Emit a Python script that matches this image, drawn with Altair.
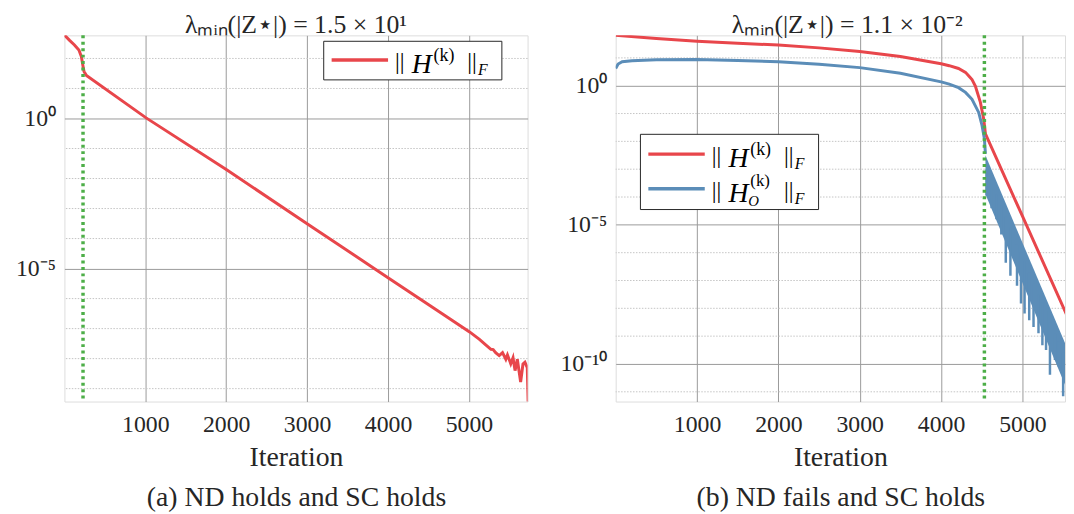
import altair as alt
import pandas as pd

SERIF = "Liberation Serif"
RED = "#E8464B"
BLUE = "#5B8DB8"
GREEN = "#4DAE48"
GRID = "#9A9A9A"
MINOR = "#C4C4C4"
BOX = "#4D4D4D"

# ---------------- panel (a) ----------------
a_title = "λₘᵢₙ(|Z⋆|) = 1.5 × 10¹"
a_caption = "(a) ND holds and SC holds"
a_iter = [0, 61, 124, 179, 209, 230, 242, 272, 1010, 2010, 3009, 4009, 4600, 5008, 5130,
          5211, 5272, 5300, 5330, 5374, 5415, 5456, 5476, 5517, 5545, 5570, 5598, 5639,
          5668, 5692, 5721, 5733]
a_log10 = [2.78, 2.61, 2.45, 2.28, 2.07, 1.74, 1.57, 1.43, 0.02, -1.72, -3.52, -5.32, -6.38,
           -7.11, -7.36, -7.55, -7.69, -7.70, -7.80, -7.90, -7.80, -8.02, -7.88, -8.17,
           -7.97, -8.40, -8.02, -8.78, -8.18, -8.12, -8.30, -9.6]
a_switch = [230]
a_xmax = 5725
a_ylog = [-9.43, 2.77]
a_minor = [-9, -8, -7, -6, -4, -3, -2, -1, 1, 2]

# ---------------- panel (b) ----------------
b_title = "λₘᵢₙ(|Z⋆|) = 1.1 × 10⁻²"
b_caption = "(b) ND fails and SC holds"
b_red_iter = [0, 500, 1000, 1500, 2000, 2500, 3000, 3500, 4000, 4100, 4214, 4300, 4338,
              4380, 4421, 4483, 4524, 4545, 5000, 5600]
b_red_log10 = [1.81, 1.70, 1.60, 1.53, 1.46, 1.36, 1.23, 1.05, 0.79, 0.72, 0.62, 0.48, 0.36,
               0.22, -0.01, -0.60, -1.20, -1.73, -4.69, -8.6]
b_blue_iter = [0, 30, 80, 200, 500, 1000, 1500, 2000, 2500, 3000, 3500, 4000, 4100, 4214,
               4300, 4380, 4462, 4503, 4532, 4545]
b_blue_log10 = [0.62, 0.78, 0.86, 0.90, 0.93, 0.94, 0.91, 0.86, 0.77, 0.65, 0.45, 0.14,
                0.06, -0.07, -0.24, -0.49, -0.96, -1.43, -1.91, -2.45]
band_iter = [4545, 5523]
band_upper = [-2.5, -9.25]
band_lower = [-3.9, -10.75]
spike_iter = [4560, 4620, 4680, 4740, 4795, 4852, 4933, 4982, 5026, 5083, 5136, 5197,
              5245, 5290, 5338, 5399, 5447, 5500]
spike_top = [-3.0, -3.5, -3.9, -4.3, -4.7, -5.1, -5.7, -6.0, -6.3, -6.7, -7.1, -7.5,
             -7.8, -8.1, -8.5, -8.9, -9.2, -9.6]
spike_bottom = [-3.95, -4.4, -4.8, -5.35, -6.36, -6.83, -7.19, -7.83, -8.19, -8.43, -8.67,
                -8.90, -9.33, -9.5, -10.39, -9.86, -10.1, -11.16]
b_switch = [4532]
b_xmax = 5523
b_ylog = [-11.35, 1.81]
b_minor = [-11, -9, -8, -7, -6, -4, -3, -2, -1, 1]

x_ticks = [1000, 2000, 3000, 4000, 5000]
y_tick_vals = [1.0, 1e-5, 1e-10]
y_tick_text = ["10⁰", "10⁻⁵", "10⁻¹⁰"]

label_expr = ("datum.value > 0.1 ? '%s' : datum.value > 1e-7 ? '%s' : '%s'"
              % tuple(y_tick_text))


def pw(v):
    return [10.0 ** e for e in v]


def legend(x0, box_top, box_bot, entries):
    one = pd.DataFrame({"k": [0]})
    layers = [alt.Chart(one).mark_rect(fill="white", stroke="#262626", strokeWidth=1).encode(
        x=alt.value(x0 - 8), x2=alt.value(x0 + 172), y=alt.value(box_top), y2=alt.value(box_bot))]
    for color, y, sub in entries:
        layers.append(alt.Chart(one).mark_rule(color=color, strokeWidth=3.5).encode(
            x=alt.value(x0), x2=alt.value(x0 + 57), y=alt.value(y)))
        pieces = [("||", x0 + 64, y + 9, 24, "normal"),
                  ("H", x0 + 81, y + 13, 28, "italic"),
                  ("(k)", x0 + 103, y + (-3 if sub else 1), 17 if sub else 18, "normal"),
                  ("||", x0 + 137, y + 9, 24, "normal"),
                  ("F", x0 + 148, y + 15, 16, "italic")]
        if sub:
            pieces.append(("O", x0 + 101, y + 17, 15, "italic"))
        for txt, tx, ty, fs, st in pieces:
            layers.append(alt.Chart(one).mark_text(
                text=txt, font=SERIF, fontSize=fs, fontStyle=st, align="left",
                baseline="alphabetic", color="black").encode(x=alt.value(tx), y=alt.value(ty)))
    return layers


def encs(xmax, ylog, caption, extent):
    xs = alt.Scale(domain=[0, xmax], nice=False, zero=False)
    ys = alt.Scale(type="log", domain=[10.0 ** ylog[0], 10.0 ** ylog[1]], nice=False)
    ax_x = alt.Axis(values=x_ticks, format="d", grid=True, gridColor=GRID, gridWidth=1,
                    ticks=False, domain=False, labelFont=SERIF, labelFontSize=24,
                    labelColor="#262626", labelPadding=11,
                    title=["Iteration", caption], titleFont=SERIF,
                    titleFontSize=28, titleFontWeight="normal",
                    titleColor="#262626", titleLineHeight=40, titlePadding=8)
    ax_y = alt.Axis(values=y_tick_vals, labelExpr=label_expr, grid=True,
                    gridColor=GRID, gridWidth=1, ticks=False, domain=False,
                    labelFont=SERIF, labelFontSize=24, labelColor="#262626",
                    labelPadding=9, minExtent=extent, maxExtent=extent, title=None)

    def X(f="it"):
        return alt.X(f + ":Q", scale=xs, axis=ax_x)

    def Y(f="v"):
        return alt.Y(f + ":Q", scale=ys, axis=ax_y)
    return X, Y


def title(t, dx):
    return alt.TitleParams(t, font=SERIF, fontSize=26, fontWeight="normal",
                           color="#262626", anchor="middle", offset=-4, dx=dx)


# ---- panel a
X, Y = encs(a_xmax, a_ylog, a_caption, 56)
df_a = pd.DataFrame({"it": a_iter, "v": pw(a_log10)})
grid_a = alt.Chart(pd.DataFrame({"v": pw(a_minor)})).mark_rule(
    color=MINOR, strokeDash=[1.5, 1.5], strokeWidth=1).encode(y=Y())
red_a = alt.Chart(df_a).mark_line(color=RED, strokeWidth=3, clip=True).encode(x=X(), y=Y())
sw_a = alt.Chart(pd.DataFrame({"it": a_switch})).mark_rule(
    color=GREEN, strokeDash=[3, 3.5], strokeWidth=3.5).encode(x=X())
leg_a = legend(270, 6, 45, [(RED, 25, False)])
panel_a = alt.layer(grid_a, red_a, sw_a, *leg_a).properties(
    width=468, height=370, title=title(a_title, 0))

# ---- panel b
X, Y = encs(b_xmax, b_ylog, b_caption, 66)
df_br = pd.DataFrame({"it": b_red_iter, "v": pw(b_red_log10)})
df_bb = pd.DataFrame({"it": b_blue_iter, "v": pw(b_blue_log10)})
df_band = pd.DataFrame({"it": band_iter, "v": pw(band_upper), "v2": pw(band_lower)})
df_sp = pd.DataFrame({"it": spike_iter, "v": pw(spike_top), "v2": pw(spike_bottom)})
grid_b = alt.Chart(pd.DataFrame({"v": pw(b_minor)})).mark_rule(
    color=MINOR, strokeDash=[1.5, 1.5], strokeWidth=1).encode(y=Y())
red_b = alt.Chart(df_br).mark_line(color=RED, strokeWidth=3, clip=True).encode(x=X(), y=Y())
blue_b = alt.Chart(df_bb).mark_line(color=BLUE, strokeWidth=3, clip=True).encode(x=X(), y=Y())
band_b = alt.Chart(df_band).mark_area(color=BLUE, opacity=1, clip=True).encode(
    x=X(), y=Y(), y2="v2:Q")
spk_b = alt.Chart(df_sp).mark_rule(color=BLUE, strokeWidth=2.5, clip=True).encode(
    x=X(), y=Y(), y2="v2:Q")
sw_b = alt.Chart(pd.DataFrame({"it": b_switch})).mark_rule(
    color=GREEN, strokeDash=[3, 3.5], strokeWidth=3.5).encode(x=X())
leg_b = legend(33, 100, 176, [(RED, 120, False), (BLUE, 155, True)])
panel_b = alt.layer(grid_b, red_b, band_b, spk_b, blue_b, sw_b, *leg_b).properties(
    width=454, height=370, title=title(b_title, 7))

chart = alt.hconcat(panel_a, panel_b, spacing=21).properties(padding=0).configure_view(
    stroke=BOX, strokeWidth=1.2).configure(background="white")

chart.save("out.html", embed_options={"renderer": "svg", "actions": False})
